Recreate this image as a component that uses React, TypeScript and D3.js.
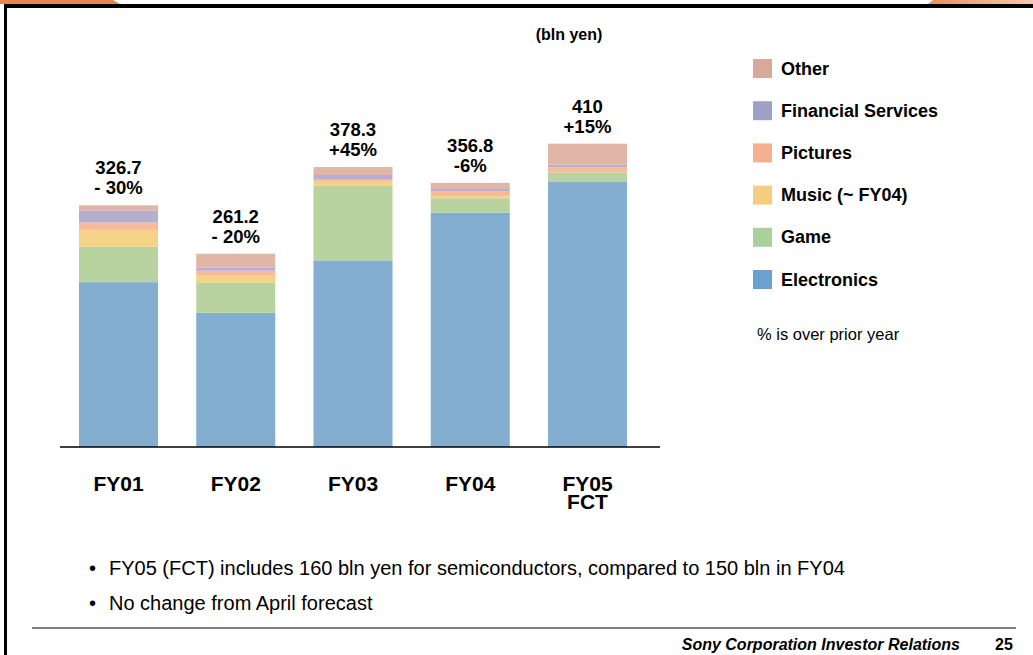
import * as d3 from "d3";

// values in bln yen
const years = ["FY01", "FY02", "FY03", "FY04", "FY05"];
const subLabels = ["", "", "", "", "FCT"];
const electronics = [222.8, 181.3, 252.2, 316.8, 358.9];
const game = [47.8, 40.6, 100.6, 19.3, 12.1];
const music = [21.9, 9.5, 6.7, 2.8, 0];
const pictures = [10.9, 6.8, 2.7, 6.9, 6.7];
const financial = [16.4, 4.1, 5.4, 2.8, 4.0];
const other = [6.8, 18.9, 10.7, 8.3, 28.2];
const totalLabels = ["326.7", "261.2", "378.3", "356.8", "410"];
const changeLabels = ["- 30%", "- 20%", "+45%", "-6%", "+15%"];

const keys = ["Electronics", "Game", "Music", "Pictures", "Financial Services", "Other"];
const barColors: Record<string, string> = {
  Electronics: "#84aed0",
  Game: "#b9d3a0",
  Music: "#f4d386",
  Pictures: "#f8bb99",
  "Financial Services": "#b5aecf",
  Other: "#e1b6a6",
};
const legendColors: Record<string, string> = {
  Electronics: "#6aa1d0",
  Game: "#a8d19c",
  Music: "#f5cd80",
  Pictures: "#f5b08f",
  "Financial Services": "#9fa0c8",
  Other: "#d8a89a",
};
const legendOrder = ["Other", "Financial Services", "Pictures", "Music (~ FY04)", "Game", "Electronics"];
const bullets = [
  "FY05 (FCT) includes 160 bln yen for semiconductors, compared to 150 bln in FY04",
  "No change from April forecast",
];

export default function App() {
  const width = 1033;
  const height = 655;
  const baseY = 447;
  const font = "Arial, 'Liberation Sans', sans-serif";

  const rows = years.map((y, i) => ({
    year: y,
    Electronics: electronics[i],
    Game: game[i],
    Music: music[i],
    Pictures: pictures[i],
    "Financial Services": financial[i],
    Other: other[i],
  }));

  const series = d3.stack<any>().keys(keys)(rows);

  const x = d3
    .scaleBand()
    .domain(years)
    .range([60, 646])
    .paddingInner(0.326)
    .paddingOuter(0.162);

  const y = d3.scaleLinear().domain([0, 400]).range([baseY, 151]);

  const totals = rows.map((r) => keys.reduce((s, k) => s + (r as any)[k], 0));

  return (
    <svg
      width={width}
      height={height}
      style={{ position: "absolute", left: 0, top: 0, background: "#fff" }}
      fontFamily={font}
    >
      <defs>
        <linearGradient id="topRight" x1="0" x2="1" y1="0" y2="0">
          <stop offset="0" stopColor="#e8905c" />
          <stop offset="1" stopColor="#f3c9ad" />
        </linearGradient>
      </defs>

      {/* slide frame */}
      <polygon points="0,0 113,0 120,4 0,4" fill="#e8844e" />
      <polygon points="933,0 1033,0 1033,4 928,4" fill="url(#topRight)" />
      <rect x={4} y={4} width={1029} height={4} fill="#000" />
      <rect x={4} y={4} width={3} height={651} fill="#000" />

      <text x={569} y={40} textAnchor="middle" fontSize={16} fontWeight="bold">
        (bln yen)
      </text>

      {/* stacked bars */}
      {series.map((s) => (
        <g key={s.key} fill={barColors[s.key]}>
          {s.map((d, i) => (
            <rect
              key={i}
              x={x(years[i])}
              y={y(d[1])}
              width={x.bandwidth()}
              height={Math.max(0, y(d[0]) - y(d[1]))}
            />
          ))}
        </g>
      ))}

      <line x1={60} x2={660} y1={baseY} y2={baseY} stroke="#000" strokeWidth={1.5} />

      {/* totals and change labels */}
      {years.map((yr, i) => {
        const cx = (x(yr) ?? 0) + x.bandwidth() / 2;
        const top = y(totals[i]);
        return (
          <g key={yr} textAnchor="middle" fontWeight="bold">
            <text x={cx} y={top - 31} fontSize={18.5}>{totalLabels[i]}</text>
            <text x={cx} y={top - 11} fontSize={18.5}>{changeLabels[i]}</text>
            <text x={cx} y={491} fontSize={21}>{yr}</text>
            {subLabels[i] && <text x={cx} y={509} fontSize={21}>{subLabels[i]}</text>}
          </g>
        );
      })}

      {/* legend */}
      {legendOrder.map((name, i) => {
        const key = name.startsWith("Music") ? "Music" : name;
        const ly = 59 + i * 42.2;
        return (
          <g key={name}>
            <rect x={753} y={ly} width={19} height={19} fill={legendColors[key]} />
            <text x={781} y={ly + 15.5} fontSize={18} fontWeight="bold">
              {name}
            </text>
          </g>
        );
      })}
      <text x={757} y={340} fontSize={16.5}>
        % is over prior year
      </text>

      {/* notes */}
      {bullets.map((b, i) => (
        <g key={i} fontSize={20}>
          <text x={89} y={575 + i * 35}>•</text>
          <text x={109} y={575 + i * 35}>{b}</text>
        </g>
      ))}

      <line x1={32} x2={1016} y1={628} y2={628} stroke="#808080" strokeWidth={2} />
      <text
        x={960}
        y={650}
        textAnchor="end"
        fontSize={16}
        fontWeight="bold"
        fontStyle="italic"
      >
        Sony Corporation Investor Relations
      </text>
      <text x={995} y={650} fontSize={16} fontWeight="bold">
        25
      </text>
    </svg>
  );
}
